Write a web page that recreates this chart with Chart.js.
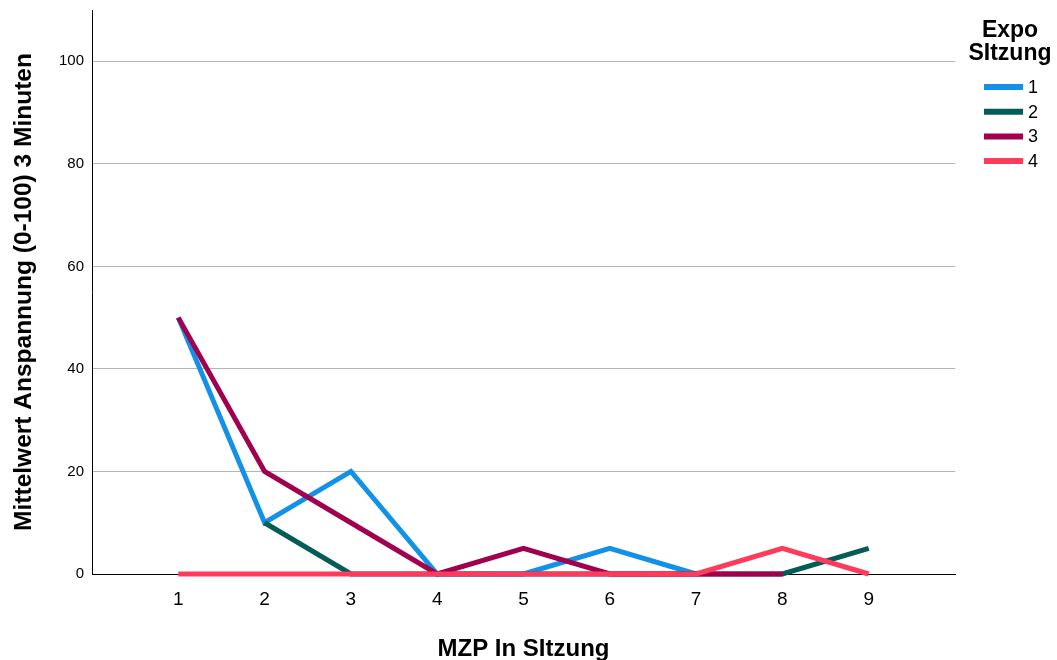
<!DOCTYPE html>
<html>
<head>
<meta charset="utf-8">
<script src="https://cdn.jsdelivr.net/npm/chart.js@4"></script>
<style>
  body { margin: 0; background: #fff; }
  canvas { display: block; }
</style>
</head>
<body>
<canvas id="myChart" width="1057" height="660"></canvas>
<script>
// MZP values 1..9
const mzp = [1, 2, 3, 4, 5, 6, 7, 8, 9]
const yTicks = [0, 20, 40, 60, 80, 100]

const seriesNames = ['1', '2', '3', '4']
const sitzung1 = [50, 10, 20, 0, 0, 5, 0, null, null]
const sitzung2 = [null, 10, 0, 0, 0, 0, 0, 0, 5]
const sitzung3 = [50, 20, 10, 0, 5, 0, 0, 0, null]
const sitzung4 = [0, 0, 0, 0, 0, 0, 0, 5, 0]

const legendTitle = ['Expo', 'SItzung']
const xTitle = 'MZP In SItzung'
const yTitle = 'Mittelwert Anspannung (0-100) 3 Minuten'

const COLORS = ['#1192e8', '#045c57', '#a1004f', '#ff3b5c']
const FONT = '"Liberation Sans", Arial, sans-serif'

function toPoints(arr) {
  return mzp.map((x, i) => ({ x: x, y: arr[i] }))
}

const allSeries = [sitzung1, sitzung2, sitzung3, sitzung4]

const data = {
  datasets: allSeries.map((arr, i) => ({
    label: seriesNames[i],
    data: toPoints(arr),
    borderColor: COLORS[i],
    backgroundColor: COLORS[i],
    borderWidth: 5,
    pointRadius: 0,
    tension: 0,
    borderJoinStyle: 'miter',
    spanGaps: false,
    clip: false,
    order: 3 - i
  }))
}

// legend drawn by hand, to the right of the plot
const sideLegend = {
  id: 'sideLegend',
  afterDraw(chart) {
    const ctx = chart.ctx
    ctx.save()
    ctx.fillStyle = '#000'
    ctx.textAlign = 'center'
    ctx.textBaseline = 'middle'
    ctx.font = 'bold 23px ' + FONT
    legendTitle.forEach((t, i) => ctx.fillText(t, 1010, 31 + i * 23))
    ctx.font = '18px ' + FONT
    ctx.textAlign = 'left'
    seriesNames.forEach((name, i) => {
      const y = 87 + i * 24.7
      ctx.strokeStyle = COLORS[i]
      ctx.lineWidth = 6
      ctx.beginPath()
      ctx.moveTo(984, y)
      ctx.lineTo(1023, y)
      ctx.stroke()
      ctx.fillStyle = '#000'
      ctx.fillText(name, 1028, y + 1)
    })
    ctx.restore()
  }
}

const config = {
  type: 'line',
  data: data,
  options: {
    responsive: false,
    animation: false,
    layout: { padding: { left: 0, right: 102, top: 10, bottom: 0 } },
    plugins: {
      legend: { display: false },
      tooltip: { enabled: false }
    },
    scales: {
      x: {
        type: 'linear',
        min: 0,
        max: 10,
        afterBuildTicks: (s) => { s.ticks = mzp.map(v => ({ value: v })) },
        afterFit: (s) => { s.height = 86; s.paddingLeft = 0; s.paddingRight = 0 },
        grid: { color: 'rgba(0,0,0,0)', drawTicks: false },
        border: { color: '#000', width: 1 },
        ticks: {
          color: '#000',
          padding: 14,
          font: { family: FONT, size: 19 },
          maxRotation: 0
        },
        title: {
          display: true,
          text: xTitle,
          color: '#000',
          font: { family: FONT, size: 24, weight: 'bold' },
          padding: { top: 0, bottom: -4 }
        }
      },
      y: {
        min: 0,
        max: 110,
        afterBuildTicks: (s) => { s.ticks = yTicks.map(v => ({ value: v })) },
        afterFit: (s) => { s.width = 92; s.paddingTop = 0; s.paddingBottom = 0 },
        grid: {
          color: (c) => c.tick && c.tick.value === 0 ? 'rgba(0,0,0,0)' : '#b4b4b4',
          lineWidth: 1,
          drawTicks: false
        },
        border: { color: '#000', width: 1 },
        ticks: {
          color: '#000',
          padding: 8,
          font: { family: FONT, size: 15 }
        },
        title: {
          display: true,
          text: yTitle,
          color: '#000',
          font: { family: FONT, size: 24.5, weight: 'bold' },
          padding: { top: 10, bottom: 0 }
        }
      }
    }
  },
  plugins: [sideLegend]
}

const myChart = new Chart(document.getElementById('myChart'), config)
</script>
</body>
</html>
